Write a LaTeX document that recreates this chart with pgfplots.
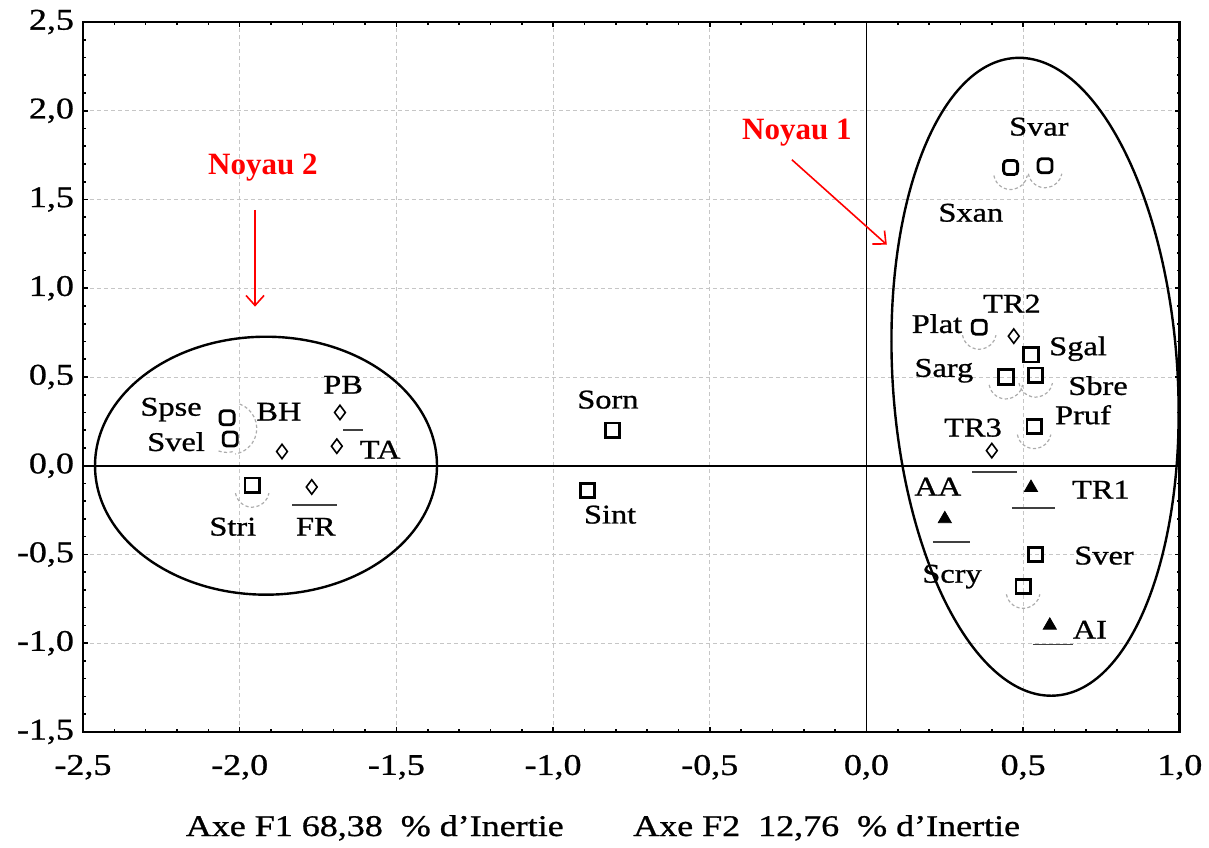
\documentclass[border=0pt]{standalone}
\usepackage{pgfplots}
\pgfplotsset{compat=1.18}
\usetikzlibrary{arrows.meta}
\usepackage{fontspec}
\setmainfont[FakeStretch=1.2, FakeBold=0.9]{Liberation Serif}
\newfontfamily\titlefont{Liberation Serif}

% square mark with rounded corners
\pgfdeclareplotmark{rsquare}{%
  \pgfmathsetlengthmacro\s{\pgfplotmarksize}%
  \pgfmathsetlengthmacro\r{0.5*\pgfplotmarksize}%
  \pgfmathsetlengthmacro\t{0.5*\pgfplotmarksize}%
  \pgfpathmoveto{\pgfpoint{-\t}{\s}}%
  \pgfpathlineto{\pgfpoint{\t}{\s}}%
  \pgfpatharc{90}{0}{\r}%
  \pgfpathlineto{\pgfpoint{\s}{-\t}}%
  \pgfpatharc{0}{-90}{\r}%
  \pgfpathlineto{\pgfpoint{-\t}{-\s}}%
  \pgfpatharc{-90}{-180}{\r}%
  \pgfpathlineto{\pgfpoint{-\s}{\t}}%
  \pgfpatharc{180}{90}{\r}%
  \pgfpathclose
  \pgfusepathqstroke}

\tikzset{
  halo/.style={gray!65, line width=0.6pt, dash pattern=on 1.6pt off 1.2pt},
  underline/.style={black!75, line width=0.9pt},
}
\newcommand\halo[2]{\draw[halo] ([yshift=-2.5pt]axis cs:#1,#2) ++(190:8.5pt) arc[start angle=190, end angle=350, radius=8.5pt];}

\begin{document}
\begin{tikzpicture}
\begin{axis}[
  name=ax,
  scale only axis,
  width=548.5pt, height=355pt,
  xmin=-2.5, xmax=1.0, ymin=-1.5, ymax=2.5,
  xtick={-2.5,-2,...,1.0}, ytick={-1.5,-1,...,2.5},
  minor tick num=4,
  tick align=inside,
  major tick length=2.5pt, minor tick length=1.5pt,
  tick style={black, line width=0.8pt},
  axis line style={line width=1.4pt},
  grid=major,
  major grid style={gray!45, dash pattern=on 2pt off 1.5pt, line width=0.4pt},
  /pgf/number format/.cd, fixed, fixed zerofill, precision=1, use comma, assume math mode=true,
  /pgfplots/.cd,
  ticklabel style={font=\fontsize{15}{17}\selectfont},
  xticklabel style={yshift=-8pt},
  yticklabel style={xshift=-1pt},
  clip=false,
]
% reference lines through the origin
\draw[line width=0.9pt] (axis cs:-2.5,0) -- (axis cs:1.0,0);
\draw[line width=0.9pt] (axis cs:0,-1.5) -- (axis cs:0,2.5);

% faint halos left under some symbols
\halo{-1.96}{-0.11}
\halo{0.46}{1.68}
\halo{0.57}{1.69}
\halo{0.36}{0.78}
\halo{0.445}{0.50}
\halo{0.54}{0.51}
\halo{0.535}{0.22}
\halo{0.50}{-0.68}
\draw[halo] ([xshift=1pt]axis cs:-2.035,0.21) ++(70:13pt) arc[start angle=70, end angle=-80, radius=13pt];
\draw[halo] ([xshift=-1pt]axis cs:-2.035,0.21) ++(250:12pt) arc[start angle=250, end angle=290, radius=12pt];

% short strokes under some labels
\draw[underline] (axis cs:0.338,-0.034) -- (axis cs:0.481,-0.034);
\draw[underline] (axis cs:0.464,-0.237) -- (axis cs:0.601,-0.237);
\draw[underline] (axis cs:0.212,-0.428) -- (axis cs:0.330,-0.428);
\draw[underline] (axis cs:0.531,-1.008) -- (axis cs:0.658,-1.008);
\draw[underline] (axis cs:-1.833,-0.220) -- (axis cs:-1.690,-0.220);
\draw[underline] (axis cs:-1.670,0.203) -- (axis cs:-1.606,0.203);

% species (open squares)
\addplot[only marks, mark=square, mark size=3.6pt, line width=1.4pt, black] coordinates {
  (-1.96,-0.11) (-0.81,0.20) (-0.89,-0.14) (0.525,0.625) (0.445,0.50)
  (0.54,0.51) (0.535,0.22) (0.54,-0.50) (0.50,-0.68)
};
% species (rounded squares)
\addplot[only marks, mark=rsquare, mark size=3.5pt, line width=1.4pt, black] coordinates {
  (-2.04,0.27) (-2.03,0.15) (0.36,0.78) (0.57,1.69) (0.46,1.68)
};
% stations (open diamonds)
\addplot[only marks, mark=diamond, mark size=3.6pt, line width=0.8pt, black] coordinates {
  (-1.865,0.08) (-1.68,0.30) (-1.69,0.11) (-1.77,-0.12) (0.47,0.73) (0.40,0.085)
};
% stations (filled triangles)
\addplot[only marks, mark=triangle*, mark size=3.8pt, black] coordinates {
  (0.525,-0.124) (0.25,-0.30) (0.585,-0.90)
};

% labels
\begin{scope}[every node/.style={font=\fontsize{13.5}{15}\selectfont, inner sep=0pt}]
\node at (axis cs:-2.219,0.316) {Spse};
\node at (axis cs:-2.203,0.135) {Svel};
\node at (axis cs:-2.022,-0.344) {Stri};
\node at (axis cs:-1.875,0.304) {BH};
\node at (axis cs:-1.670,0.456) {PB};
\node at (axis cs:-1.552,0.090) {TA};
\node at (axis cs:-1.757,-0.344) {FR};
\node at (axis cs:-0.825,0.372) {Sorn};
\node at (axis cs:-0.818,-0.276) {Sint};
\node at (axis cs:0.550,1.910) {Svar};
\node at (axis cs:0.333,1.425) {Sxan};
\node at (axis cs:0.225,0.800) {Plat};
\node at (axis cs:0.464,0.913) {TR2};
\node at (axis cs:0.675,0.659) {Sgal};
\node at (axis cs:0.247,0.535) {Sarg};
\node at (axis cs:0.739,0.451) {Sbre};
\node at (axis cs:0.691,0.287) {Pruf};
\node at (axis cs:0.340,0.214) {TR3};
\node at (axis cs:0.748,-0.135) {TR1};
\node at (axis cs:0.228,-0.118) {AA};
\node at (axis cs:0.758,-0.507) {Sver};
\node at (axis cs:0.273,-0.625) {Scry};
\node at (axis cs:0.713,-0.924) {AI};
\end{scope}

% groups
\draw[line width=1.2pt] (axis cs:-1.916,0) ellipse [x radius=85.5pt, y radius=64.5pt];
\draw[line width=1.2pt, rotate around={3.6:(axis cs:0.538,0.501)}]
  (axis cs:0.538,0.501) ellipse [x radius=71.25pt, y radius=159.75pt];

\node[red, font=\titlefont\bfseries\fontsize{15.5}{17}\selectfont] at (axis cs:-1.926,1.679) {Noyau 2};
\node[red, font=\titlefont\bfseries\fontsize{15.5}{17}\selectfont] at (axis cs:-0.222,1.876) {Noyau 1};
\draw[red, line width=0.8pt, -{Straight Barb[length=5pt,width=9pt]}] (axis cs:-1.951,1.442) -- (axis cs:-1.951,0.896);
\draw[red, line width=0.8pt, -{Straight Barb[length=5pt,width=9pt]}] (axis cs:-0.238,1.724) -- (axis cs:0.065,1.245);

% axis titles
\node[font=\fontsize{15}{17}\selectfont] at ([yshift=-48pt]rel axis cs:0.266,0) {Axe F1 68,38~ \% d'Inertie};
\node[font=\fontsize{15}{17}\selectfont] at ([yshift=-48pt]rel axis cs:0.678,0) {Axe F2~ 12,76~ \% d'Inertie};

\coordinate (O) at (rel axis cs:0,0);
\end{axis}
\path ([xshift=-41.5pt,yshift=-55.5pt]O) rectangle ([xshift=563pt,yshift=366pt]O);
\end{tikzpicture}
\end{document}
